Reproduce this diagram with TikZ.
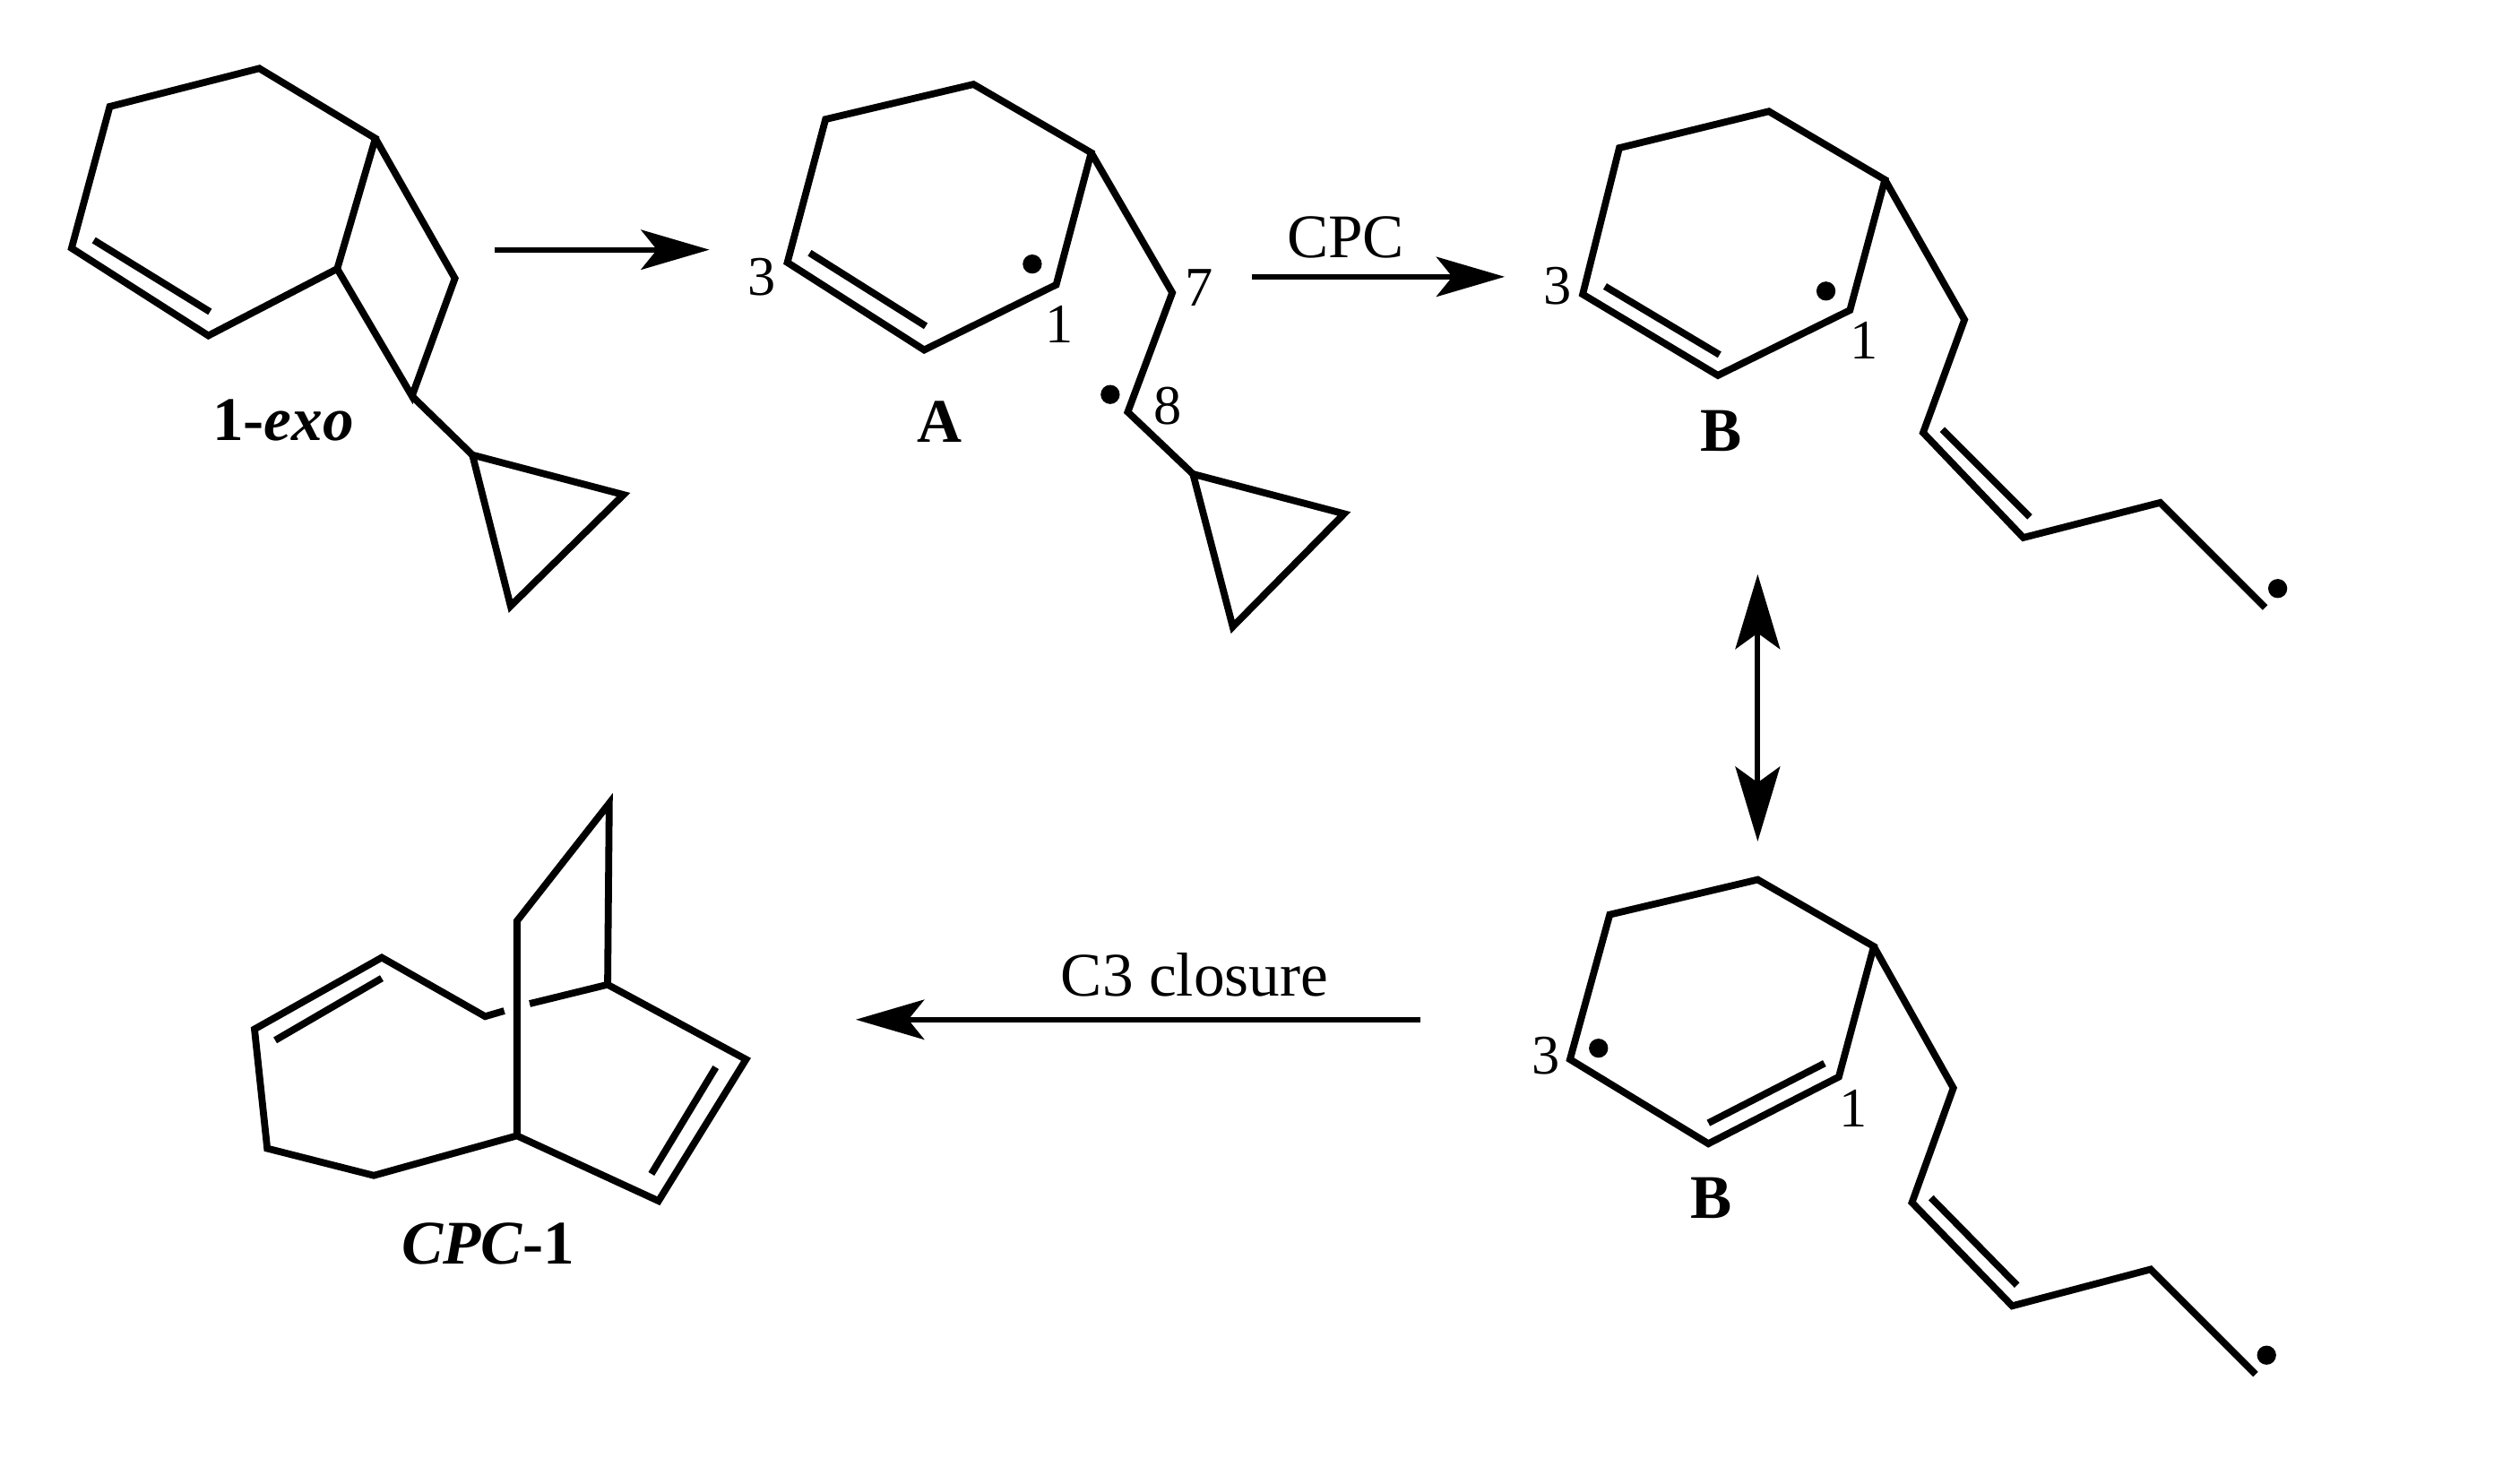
\documentclass[tikz,border=0pt]{standalone}
\usepackage{fontspec}
\setmainfont{Liberation Serif}
\usetikzlibrary{arrows.meta}
\tikzstyle{Bond}=[draw=black,line width=1.25pt,line join=miter]
\tikzstyle{Reaction}=[draw=black,line width=1pt,-{Stealth[length=4.3mm,width=2.5mm,inset=1mm]}]
\tikzstyle{Resonance}=[draw=black,line width=1pt,{Stealth[length=4.7mm,width=2.8mm,inset=1mm]}-{Stealth[length=4.7mm,width=2.8mm,inset=1mm]}]
\tikzstyle{Radical}=[circle,fill=black,inner sep=0pt,minimum size=1.2mm]
\tikzstyle{NodeNum}=[inner sep=0pt,font=\fontsize{10pt}{12pt}\selectfont]
\tikzstyle{NodeST}=[inner sep=0pt,font=\fontsize{11.1pt}{13pt}\selectfont]
\tikzstyle{NodeName}=[inner sep=0pt,font=\fontsize{11.1pt}{13pt}\selectfont\bfseries]
\begin{document}
\begin{tikzpicture}[xscale=.1,yscale=.1]
        \useasboundingbox(0.00,0.00)rectangle(156.80,-93.30);
        % 1-exo
        \coordinate(a1)at(4.50,-15.60);
        \coordinate(a2)at(6.90,-6.70);
        \coordinate(a3)at(16.30,-4.30);
        \coordinate(a4)at(23.60,-8.70);
        \coordinate(a5)at(21.20,-16.90);
        \coordinate(a6)at(13.10,-21.10);
        \coordinate(a7)at(28.60,-17.50);
        \coordinate(a8)at(25.90,-24.90);
        \coordinate(a9)at(29.70,-28.60);
        \coordinate(a10)at(39.20,-31.10);
        \coordinate(a11)at(32.10,-38.10);
        \coordinate(a12)at(5.90,-15.10);
        \coordinate(a13)at(13.20,-19.60);
        \draw[Bond](a1)--(a2)--(a3)--(a4)--(a5)--(a6)--cycle;
        \draw[Bond](a4)--(a7)--(a8)--(a5);
        \draw[Bond](a8)--(a9);
        \draw[Bond](a9)--(a10)--(a11)--cycle;
        \draw[Bond](a12)--(a13);
        \node[NodeName](exo)at(17.80,-26.40){1-\textit{exo}};
        % A
        \coordinate(b1)at(49.50,-16.50);
        \coordinate(b2)at(51.90,-7.50);
        \coordinate(b3)at(61.20,-5.30);
        \coordinate(b4)at(68.60,-9.60);
        \coordinate(b5)at(66.40,-17.90);
        \coordinate(b6)at(58.10,-22.00);
        \coordinate(b7)at(73.70,-18.40);
        \coordinate(b8)at(70.90,-25.90);
        \coordinate(b9)at(75.00,-29.80);
        \coordinate(b10)at(84.50,-32.30);
        \coordinate(b11)at(77.50,-39.40);
        \coordinate(b12)at(50.90,-15.90);
        \coordinate(b13)at(58.20,-20.50);
        \draw[Bond](b1)--(b2)--(b3)--(b4)--(b5)--(b6)--cycle;
        \draw[Bond](b4)--(b7)--(b8)--(b9);
        \draw[Bond](b9)--(b10)--(b11)--cycle;
        \draw[Bond](b12)--(b13);
        \node[Radical](b14)at(64.90,-16.60){};
        \node[Radical](b15)at(69.80,-24.80){};
        \node[NodeNum](b16)at(47.90,-17.40){3};
        \node[NodeNum](b17)at(66.60,-20.40){1};
        \node[NodeNum](b18)at(75.40,-18.10){7};
        \node[NodeNum](b19)at(73.40,-25.50){8};
        \node[NodeName](nameA)at(59.10,-26.50){A};
        % B, top
        \coordinate(c1)at(99.50,-18.50);
        \coordinate(c2)at(101.80,-9.30);
        \coordinate(c3)at(111.20,-7.00);
        \coordinate(c4)at(118.50,-11.30);
        \coordinate(c5)at(116.30,-19.50);
        \coordinate(c6)at(108.00,-23.60);
        \coordinate(c7)at(123.50,-20.10);
        \coordinate(c8)at(120.90,-27.20);
        \coordinate(c9)at(127.20,-33.80);
        \coordinate(c10)at(135.80,-31.60);
        \coordinate(c11)at(142.40,-38.20);
        \coordinate(c12)at(100.90,-18.00);
        \coordinate(c13)at(108.10,-22.30);
        \coordinate(c14)at(122.10,-27.00);
        \coordinate(c15)at(127.60,-32.50);
        \draw[Bond](c1)--(c2)--(c3)--(c4)--(c5)--(c6)--cycle;
        \draw[Bond](c4)--(c7)--(c8)--(c9)--(c10)--(c11);
        \draw[Bond](c12)--(c13);
        \draw[Bond](c14)--(c15);
        \node[Radical](c16)at(114.80,-18.30){};
        \node[Radical](c17)at(143.20,-37.00){};
        \node[NodeNum](c18)at(97.90,-18.00){3};
        \node[NodeNum](c19)at(117.20,-21.40){1};
        \node[NodeName](nameB)at(108.20,-27.10){B};
        % B, bottom
        \coordinate(d1)at(98.70,-66.60);
        \coordinate(d2)at(101.20,-57.50);
        \coordinate(d3)at(110.50,-55.30);
        \coordinate(d4)at(117.80,-59.50);
        \coordinate(d5)at(115.60,-67.70);
        \coordinate(d6)at(107.40,-71.90);
        \coordinate(d7)at(122.80,-68.40);
        \coordinate(d8)at(120.20,-75.60);
        \coordinate(d9)at(126.50,-82.10);
        \coordinate(d10)at(135.20,-79.80);
        \coordinate(d11)at(141.80,-86.40);
        \coordinate(d12)at(107.40,-70.60);
        \coordinate(d13)at(114.70,-66.85);
        \coordinate(d14)at(121.40,-75.30);
        \coordinate(d15)at(126.80,-80.80);
        \draw[Bond](d1)--(d2)--(d3)--(d4)--(d5)--(d6)--cycle;
        \draw[Bond](d4)--(d7)--(d8)--(d9)--(d10)--(d11);
        \draw[Bond](d12)--(d13);
        \draw[Bond](d14)--(d15);
        \node[Radical](d16)at(100.50,-65.90){};
        \node[Radical](d17)at(142.50,-85.20){};
        \node[NodeNum](d18)at(97.20,-66.40){3};
        \node[NodeNum](d19)at(116.50,-69.70){1};
        \node[NodeName](nameC)at(107.60,-75.30){B};
        % CPC-1
        \coordinate(e1)at(16.00,-64.70);
        \coordinate(e2)at(24.00,-60.20);
        \coordinate(e3)at(30.50,-63.90);
        \coordinate(e4)at(31.70,-63.55);
        \coordinate(e5)at(33.30,-63.10);
        \coordinate(e6)at(38.20,-61.90);
        \coordinate(e7)at(46.90,-66.60);
        \coordinate(e8)at(41.40,-75.50);
        \coordinate(e9)at(32.50,-71.40);
        \coordinate(e10)at(23.50,-73.90);
        \coordinate(e11)at(16.80,-72.20);
        \coordinate(e12)at(32.50,-57.90);
        \coordinate(e13)at(38.30,-50.50);
        \coordinate(e14)at(17.30,-65.40);
        \coordinate(e15)at(24.00,-61.50);
        \coordinate(e16)at(45.00,-67.10);
        \coordinate(e17)at(40.95,-73.80);
        \draw[Bond](e4)--(e3)--(e2)--(e1)--(e11)--(e10)--(e9)--(e8)--(e7)--(e6)--(e5);
        \draw[Bond](e9)--(e12)--(e13)--(e6);
        \draw[Bond](e14)--(e15);
        \draw[Bond](e16)--(e17);
        \node[NodeName](nameD)at(30.70,-78.20){\textit{CPC}-1};
        % arrows
        \coordinate(r1)at(31.10,-15.70);
        \coordinate(r2)at(44.60,-15.70);
        \coordinate(r3)at(78.70,-17.40);
        \coordinate(r4)at(94.60,-17.40);
        \coordinate(r5)at(110.50,-36.10);
        \coordinate(r6)at(110.50,-52.90);
        \coordinate(r7)at(89.30,-64.10);
        \coordinate(r8)at(53.80,-64.10);
        \draw[Reaction](r1)--(r2);
        \draw[Reaction](r3)--(r4);
        \draw[Resonance](r5)--(r6);
        \draw[Reaction](r7)--(r8);
        \node[NodeST](cpc)at(84.60,-14.90){CPC};
        \node[NodeST](closure)at(75.10,-61.30){C3 closure};
    \end{tikzpicture}
\end{document}
